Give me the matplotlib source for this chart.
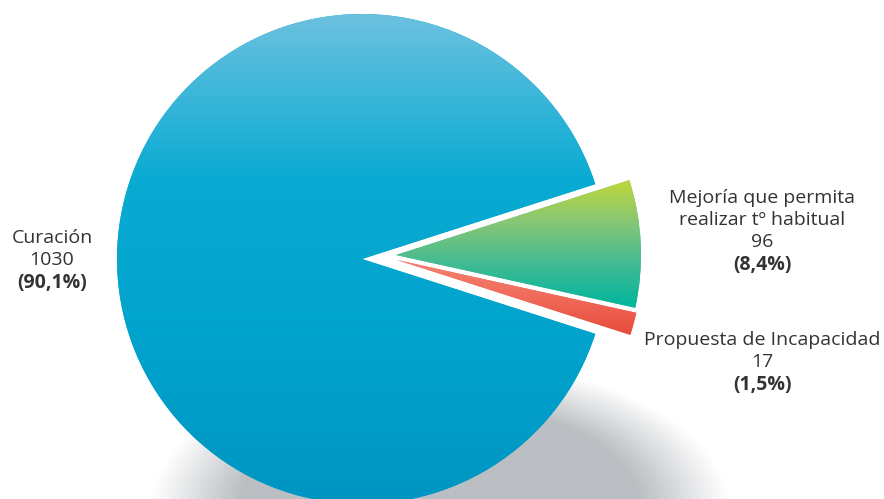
import numpy as np
import matplotlib
matplotlib.use("Agg")
from matplotlib import pyplot as plt
from matplotlib.colors import LinearSegmentedColormap

# data
labels = ["Curación", "Mejoría que permita\nrealizar tº habitual", "Propuesta de Incapacidad"]
values = [1030, 96, 17]

W, H = 884, 499
plt.rcParams['font.family'] = ['Open Sans', 'DejaVu Sans']
TXT = '#333333'

fig = plt.figure(figsize=(W / 100, H / 100), dpi=100)
ax = fig.add_axes([0, 0, 1, 1])

cx, cy, R = 362, H - 259, 245
total = sum(values)
start = -180 * (total - values[0]) / total

wedges, _ = ax.pie(values, startangle=start, counterclock=False, center=(cx, cy),
                   radius=R, colors=['#00a8d0', '#5fbf8a', '#f0604c'],
                   wedgeprops=dict(linewidth=0))

# pull the two small slices out to the right
shifts = [(0, 0), (34, 4), (35, -1)]
for w, (dx, dy) in zip(wedges, shifts):
    w.set_center((cx + dx, cy + dy))

# vertical gradients, clipped to each slice
grads = [
    ['#6cc1df', '#0aabd3', '#00a3cc', '#0095c2'],
    ['#bed73a', '#86c676', '#3fbb93', '#00b59f'],
    ['#f58473', '#f06a5a', '#e84b3c'],
]
for w, cols in zip(wedges, grads):
    bb = w.get_path().get_extents(w.get_patch_transform())
    cmap = LinearSegmentedColormap.from_list('g', cols)
    img = ax.imshow(np.linspace(0, 1, 256).reshape(-1, 1), cmap=cmap, aspect='auto',
                    extent=(bb.x0, bb.x1, bb.y0, bb.y1), origin='upper',
                    interpolation='bilinear', zorder=2)
    img.set_clip_path(w)

# soft grey shadow under the pie
sx = np.linspace(80, 800, 360)
sy = np.linspace(0, 180, 90)
X, Y = np.meshgrid(sx, sy)
r = np.sqrt(((X - 440) / 290) ** 2 + ((Y + 10) / 150) ** 2)
alpha = np.clip((1 - r) / 0.3, 0, 1) * 0.95
shadow = np.zeros((len(sy), len(sx), 4))
shadow[..., 0] = 0.725
shadow[..., 1] = 0.74
shadow[..., 2] = 0.755
shadow[..., 3] = alpha
ax.imshow(shadow, extent=(sx[0], sx[-1], sy[0], sy[-1]), origin='lower',
          aspect='auto', interpolation='bilinear', zorder=0.5)

# labels: name / count / percent (bold)
pcts = ["(" + f"{100 * v / total:.1f}".replace('.', ',') + "%)" for v in values]
label_pos = [(52, 238), (762, 198), (762, 340)]
fs = 14
for lab, v, p, (lx, ly) in zip(labels, values, pcts, label_pos):
    lines = lab.split('\n')
    y = ly
    for ln in lines:
        ax.text(lx, H - y, ln, ha='center', va='center', fontsize=fs, color=TXT)
        y += 22
    ax.text(lx, H - y, str(v), ha='center', va='center', fontsize=fs, color=TXT)
    y += 23
    ax.text(lx, H - y, p, ha='center', va='center', fontsize=fs, color=TXT,
            fontweight='bold')

ax.set_xlim(0, W)
ax.set_ylim(0, H)
ax.set_aspect('auto')
ax.axis('off')
fig.savefig('out.png', dpi=100)
